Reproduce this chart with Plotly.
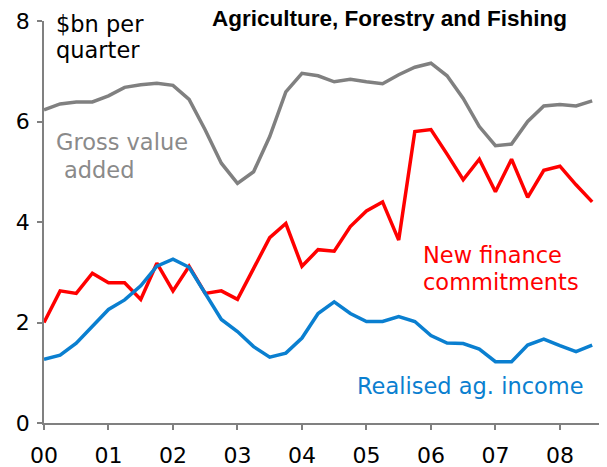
import plotly.graph_objects as go

# quarterly observations, 2000 Q1 to 2008 Q3 ($bn per quarter)
quarters = [2000 + i * 0.25 for i in range(35)]

gross_value_added = [6.23, 6.35, 6.39, 6.39, 6.51, 6.68, 6.73, 6.76, 6.72, 6.44,
                     5.83, 5.17, 4.77, 5.00, 5.70, 6.59, 6.96, 6.91, 6.79, 6.84,
                     6.79, 6.75, 6.93, 7.08, 7.16, 6.91, 6.46, 5.90, 5.52, 5.55,
                     6.00, 6.31, 6.34, 6.31, 6.41]
new_finance = [2.00, 2.63, 2.58, 2.98, 2.79, 2.79, 2.46, 3.18, 2.63, 3.12,
               2.58, 2.63, 2.46, 3.08, 3.69, 3.97, 3.12, 3.45, 3.42, 3.91,
               4.22, 4.40, 3.64, 5.80, 5.84, 5.35, 4.84, 5.25, 4.60, 5.25,
               4.49, 5.03, 5.11, 4.74, 4.40]
realised_income = [1.27, 1.35, 1.59, 1.93, 2.26, 2.45, 2.73, 3.12, 3.26, 3.10,
                   2.58, 2.06, 1.82, 1.52, 1.31, 1.39, 1.69, 2.18, 2.41, 2.18,
                   2.02, 2.02, 2.12, 2.02, 1.74, 1.59, 1.58, 1.47, 1.22, 1.22,
                   1.55, 1.67, 1.54, 1.42, 1.55]

year_ticks = list(range(2000, 2009))
year_labels = ["00", "01", "02", "03", "04", "05", "06", "07", "08"]

GREY = "#808080"
RED = "#ff0000"
BLUE = "#0a7fd0"
FONT = "DejaVu Sans"

fig = go.Figure()
fig.add_trace(go.Scatter(x=quarters, y=gross_value_added, mode="lines",
                         line=dict(color=GREY, width=3.5)))
fig.add_trace(go.Scatter(x=quarters, y=new_finance, mode="lines",
                         line=dict(color=RED, width=3.5)))
fig.add_trace(go.Scatter(x=quarters, y=realised_income, mode="lines",
                         line=dict(color=BLUE, width=3.5)))

# the page body has an 8px margin, so the figure is 8px smaller each way
fig.update_layout(
    width=599, height=459,
    margin=dict(l=36, r=0, t=13, b=44),
    paper_bgcolor="white", plot_bgcolor="white",
    showlegend=False,
    font=dict(family=FONT, size=21, color="black"),
)

fig.update_xaxes(
    range=[2000, 2008.73], tickvals=year_ticks, ticktext=year_labels,
    automargin=False,
    showgrid=False, zeroline=False, showline=True, linecolor=GREY, linewidth=1.5,
    ticks="outside", ticklen=5, tickcolor=GREY, tickwidth=1.5,
    ticklabelstandoff=7,
    tickfont=dict(family=FONT, size=22, color="black"),
)
fig.update_yaxes(
    range=[0, 8], tickvals=[0, 2, 4, 6, 8],
    automargin=False,
    showgrid=False, zeroline=False, showline=True, linecolor=GREY, linewidth=1.5,
    ticks="outside", ticklen=5, tickcolor=GREY, tickwidth=1.5,
    ticklabelstandoff=3,
    tickfont=dict(family=FONT, size=22, color="black"),
)

def label(text, x, y, color, size=22.5, family=FONT, anchor="left"):
    fig.add_annotation(text=text, x=x, y=y, xref="paper", yref="paper",
                       xanchor=anchor, yanchor="middle", showarrow=False,
                       font=dict(family=family, size=size, color=color))

# screen pixels -> paper coords (plot area spans x 44..607, y 21..423 on screen)
def px(xp, yp):
    return (xp - 44) / 563, (423 - yp) / 402

label("<b>Agriculture, Forestry and Fishing</b>", *px(389, 18), "black",
      size=22.5, family="Liberation Sans", anchor="center")
label("$bn per", *px(54, 24), "black")
label("quarter", *px(54, 50), "black")
label("Gross value", *px(54, 142), "#8a8a8a")
label("added", *px(62, 170), "#8a8a8a")
label("New finance", *px(421, 255), RED)
label("commitments", *px(421, 282), RED)
label("Realised ag. income", *px(355, 386), BLUE)

fig.write_html("out.html")
